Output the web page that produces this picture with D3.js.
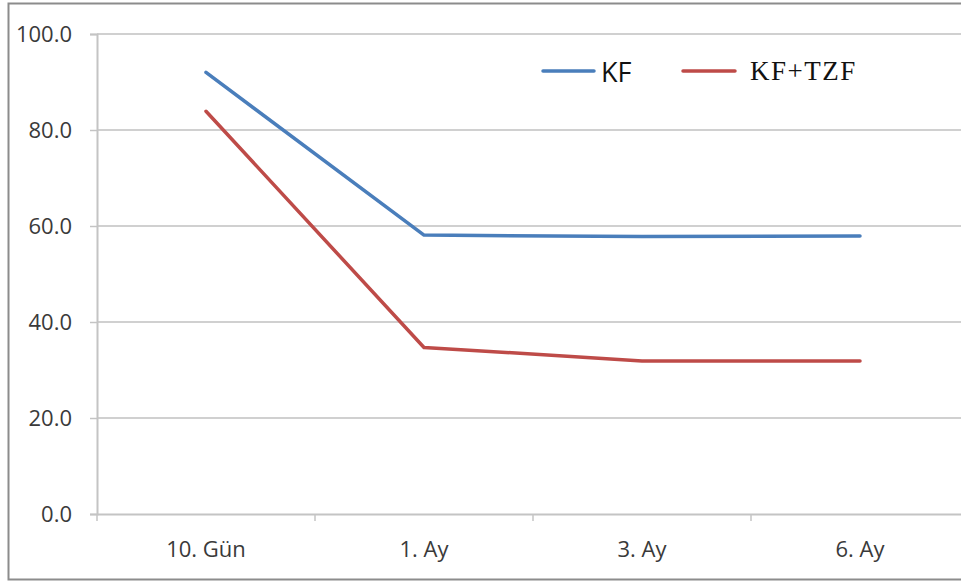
<!DOCTYPE html>
<html>
<head>
<meta charset="utf-8">
<script src="https://cdn.jsdelivr.net/npm/d3@7/dist/d3.min.js"></script>
<style>
  html, body { margin: 0; padding: 0; background: #fff; }
  svg { display: block; }
</style>
</head>
<body>
<svg id="chart" width="961" height="584"></svg>
<script>
// Time points and mean scores for the two groups
const categories = ["10. Gün", "1. Ay", "3. Ay", "6. Ay"];
const kfValues = [92.0, 58.1, 57.8, 57.9];
const kfTzfValues = [83.9, 34.7, 31.9, 31.9];
const yTicks = [0, 20, 40, 60, 80, 100];
const seriesNames = ["KF", "KF+TZF"];

const series = [
  { name: seriesNames[0], values: kfValues, color: "#4a7ebb" },
  { name: seriesNames[1], values: kfTzfValues, color: "#be4b48" }
];

const svg = d3.select("#chart");
const W = 961, H = 584;
const plot = { left: 97, right: 969, top: 34, bottom: 514 };
const labelFont = "'Open Sans', sans-serif";

// Outer frame of the chart area
svg.append("path")
  .attr("d", `M${W + 5},3.5 H8.5 V579.5 H${W + 5}`)
  .attr("fill", "none")
  .attr("stroke", "#8c8c8c")
  .attr("stroke-width", 2);

const x = d3.scaleBand().domain(categories).range([plot.left, plot.right]).padding(0);
const y = d3.scaleLinear().domain([0, 100]).range([plot.bottom, plot.top]);

// Horizontal gridlines
svg.append("g")
  .selectAll("line")
  .data(yTicks.filter(t => t > 0))
  .join("line")
  .attr("x1", plot.left).attr("x2", plot.right)
  .attr("y1", d => y(d)).attr("y2", d => y(d))
  .attr("stroke", "#d0d0d0")
  .attr("stroke-width", 2);

// Y axis
const yAxis = svg.append("g")
  .attr("transform", `translate(${plot.left},0)`)
  .call(d3.axisLeft(y).tickValues(yTicks).tickFormat(d3.format(".1f")).tickSize(7).tickPadding(18));
yAxis.select(".domain").attr("stroke", "#c4c4c4").attr("stroke-width", 2);
yAxis.selectAll(".tick line").attr("stroke", "#c4c4c4").attr("stroke-width", 1.5);
yAxis.selectAll(".tick text")
  .attr("fill", "#3a3a3a")
  .style("font-family", labelFont)
  .style("font-size", "22px");

// X axis with ticks between categories
const xAxis = svg.append("g")
  .attr("transform", `translate(0,${plot.bottom})`)
  .call(d3.axisBottom(x).tickSize(0).tickPadding(27));
xAxis.select(".domain").attr("stroke", "#c4c4c4").attr("stroke-width", 2);
xAxis.selectAll(".tick text")
  .attr("fill", "#3a3a3a")
  .style("font-family", labelFont)
  .style("font-size", "22px");
xAxis.selectAll("line.sep")
  .data(categories)
  .join("line")
  .attr("class", "sep")
  .attr("x1", d => x(d)).attr("x2", d => x(d))
  .attr("y1", 0).attr("y2", 7)
  .attr("stroke", "#c4c4c4")
  .attr("stroke-width", 1.5);

// Data lines
const line = d3.line()
  .x((d, i) => x(categories[i]) + x.bandwidth() / 2)
  .y(d => y(d));

svg.append("g")
  .selectAll("path")
  .data(series)
  .join("path")
  .attr("d", d => line(d.values))
  .attr("fill", "none")
  .attr("stroke", d => d.color)
  .attr("stroke-width", 3.5)
  .attr("stroke-linecap", "round")
  .attr("stroke-linejoin", "round");

// Legend
const legendItems = [
  { s: series[0], x1: 543, x2: 594, tx: 601, ty: 82, font: labelFont, size: 27, ls: 0 },
  { s: series[1], x1: 683, x2: 735, tx: 750, ty: 80, font: "'Liberation Serif', serif", size: 27, ls: 1.5 }
];
const legend = svg.append("g");
legendItems.forEach(it => {
  legend.append("line")
    .attr("x1", it.x1).attr("x2", it.x2)
    .attr("y1", 71).attr("y2", 71)
    .attr("stroke", it.s.color)
    .attr("stroke-width", 3.5)
    .attr("stroke-linecap", "round");
  legend.append("text")
    .attr("x", it.tx).attr("y", it.ty)
    .attr("fill", "#111")
    .style("font-family", it.font)
    .style("font-size", it.size + "px")
    .style("letter-spacing", it.ls + "px")
    .text(it.s.name);
});
</script>
</body>
</html>
